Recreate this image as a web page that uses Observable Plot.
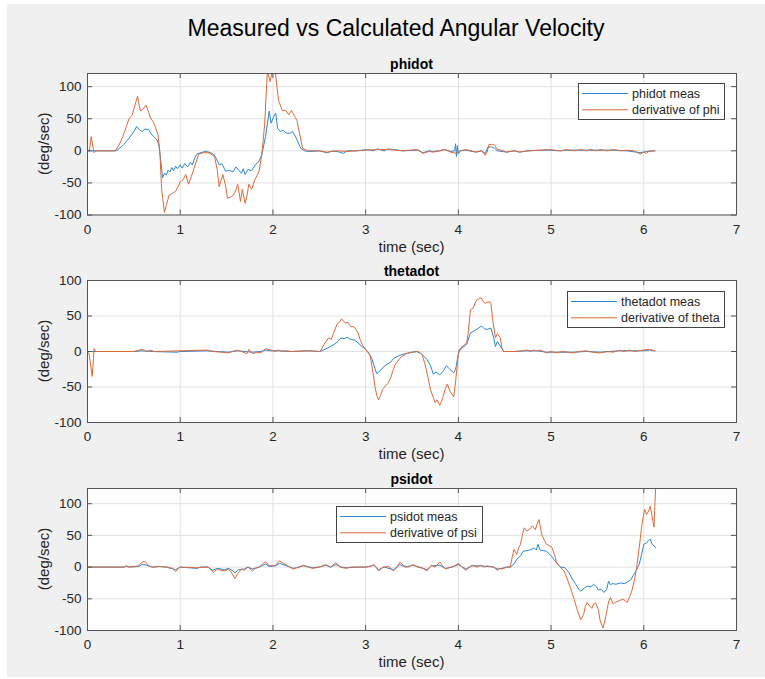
<!DOCTYPE html>
<html><head><meta charset="utf-8">
<script src="https://cdn.jsdelivr.net/npm/d3@7"></script>
<script src="https://cdn.jsdelivr.net/npm/@observablehq/plot@0.6"></script>
<style>
body{margin:0;background:#fff;}
#fig{position:relative;width:765px;height:679px;overflow:hidden;font-family:"Liberation Sans",Arial,Helvetica,sans-serif;}
#bg{position:absolute;left:7px;top:4px;width:758px;height:673px;background:#f0f0f0;}
.sub{position:absolute;left:0;}
#overlay{position:absolute;left:0;top:0;pointer-events:none;}
</style></head><body><div id="fig"><div id="bg"></div></div>
<script>
// ---------- chart content ----------
const mainTitle = "Measured vs Calculated Angular Velocity";
const subplotTitles = ["phidot", "thetadot", "psidot"];
const xLabel = "time (sec)";
const yLabel = "(deg/sec)";
const legendLabels = [["phidot meas", "derivative of phi"], ["thetadot meas", "derivative of theta"], ["psidot meas", "derivative of psi"]];
const xTicks = [0, 1, 2, 3, 4, 5, 6, 7];
const yTicks = [-100, -50, 0, 50, 100];
const xDomain = [0, 7];
const yDomains = [[-100, 120.5], [-100, 100], [-100, 124]];

// [time, value] pairs
const phiMeas = [[0,0],[0.3,0],[0.32,1],[0.38,8],[0.45,20],[0.5,30],[0.53,38],[0.56,33],[0.59,30],[0.62,34],[0.66,33],[0.69,26],[0.715,22],[0.75,17],[0.77,9],[0.79,-15],[0.81,-42],[0.83,-35],[0.85,-38],[0.87,-30],[0.89,-33],[0.91,-26],[0.93,-31],[0.95,-24],[0.97,-28],[1.0,-22],[1.02,-27],[1.05,-20],[1.08,-25],[1.11,-18],[1.13,-22],[1.16,-10],[1.18,-5],[1.22,-3],[1.27,-1],[1.31,-2],[1.36,-5],[1.39,-12],[1.42,-22],[1.45,-20],[1.49,-32],[1.53,-30],[1.57,-33],[1.6,-25],[1.63,-30],[1.66,-35],[1.68,-28],[1.7,-37],[1.73,-29],[1.77,-31],[1.81,-22],[1.85,-16],[1.88,-6],[1.92,22],[1.96,62],[1.98,43],[2.01,54],[2.03,59],[2.05,35],[2.08,30],[2.11,32],[2.14,28],[2.18,27],[2.21,30],[2.24,23],[2.26,17],[2.3,4],[2.34,0],[2.4,-1],[2.5,0],[2.58,-3],[2.65,0],[2.72,-2],[2.76,-4],[2.8,0],[2.9,0],[3.02,2],[3.08,0],[3.13,3],[3.2,0],[3.24,3],[3.31,2],[3.4,0],[3.56,1],[3.62,-3],[3.68,0],[3.73,-1],[3.8,0],[3.85,2],[3.92,-1],[3.96,0],[3.97,11],[3.98,-9],[3.99,8],[4.0,-5],[4.02,0],[4.08,1],[4.19,-2],[4.25,0],[4.29,-4],[4.32,6],[4.36,6],[4.39,4],[4.42,0],[4.52,-2],[4.6,0],[4.66,-2],[4.75,0],[4.88,1],[4.99,1],[5.1,0],[5.17,1],[5.32,1],[5.43,1],[5.53,1],[5.68,1],[5.82,0],[5.96,-3],[6.03,-1],[6.12,0]];
const phiDeriv = [[0,0],[0.02,0],[0.04,22],[0.06,5],[0.07,-3],[0.09,0],[0.3,0],[0.34,9],[0.38,22],[0.42,38],[0.45,51],[0.48,55],[0.51,70],[0.54,85],[0.57,62],[0.6,65],[0.63,71],[0.66,60],[0.68,51],[0.71,45],[0.73,38],[0.76,25],[0.78,-1],[0.8,-60],[0.83,-96],[0.85,-85],[0.88,-69],[0.92,-66],[0.95,-63],[0.98,-55],[1.0,-48],[1.03,-45],[1.06,-37],[1.09,-52],[1.12,-40],[1.15,-27],[1.2,-5],[1.25,-3],[1.31,-3],[1.37,-9],[1.4,-30],[1.42,-56],[1.46,-37],[1.49,-55],[1.51,-74],[1.56,-71],[1.59,-65],[1.62,-52],[1.65,-79],[1.67,-60],[1.7,-82],[1.72,-70],[1.74,-52],[1.77,-60],[1.8,-47],[1.85,-32],[1.88,-6],[1.91,40],[1.94,124],[1.97,108],[2.0,128],[2.02,130],[2.06,79],[2.1,63],[2.14,63],[2.17,56],[2.2,63],[2.24,52],[2.26,47],[2.28,32],[2.32,4],[2.38,0],[2.5,0],[2.58,-2],[2.7,0],[2.8,-1],[3.0,1],[3.13,2],[3.24,2],[3.4,0],[3.56,2],[3.62,-4],[3.68,-1],[3.73,-2],[3.8,0],[3.85,2],[3.92,-2],[3.98,-4],[4.02,0],[4.08,2],[4.19,-2],[4.25,0],[4.29,-7],[4.31,-2],[4.33,10],[4.37,10],[4.39,9],[4.42,2],[4.44,2],[4.52,-2],[4.6,0],[4.66,-2],[4.75,0],[4.88,1],[4.99,2],[5.1,0],[5.17,2],[5.25,0],[5.32,2],[5.38,0],[5.43,2],[5.48,0],[5.53,2],[5.6,0],[5.68,2],[5.75,0],[5.82,1],[5.9,0],[5.96,-5],[6.0,-2],[6.03,-4],[6.06,0],[6.12,0]];
const thetaMeas = [[0,0],[0.5,0],[0.59,1],[0.7,0],[0.97,-1],[1.0,0],[1.29,1],[1.4,0],[1.52,-1],[1.62,1],[1.7,0],[1.78,-1],[1.87,0],[1.92,2],[1.98,1],[2.06,1],[2.2,0],[2.39,1],[2.51,0],[2.56,3],[2.62,7],[2.66,10],[2.7,14],[2.73,19],[2.77,18],[2.8,20],[2.84,17],[2.88,16],[2.92,12],[2.96,7],[3.0,3],[3.04,-3],[3.07,-11],[3.1,-24],[3.12,-31],[3.15,-28],[3.19,-22],[3.23,-18],[3.27,-15],[3.3,-10],[3.34,-7],[3.4,-4],[3.46,-2],[3.5,-1],[3.55,0],[3.6,-3],[3.66,-11],[3.7,-20],[3.73,-32],[3.76,-29],[3.8,-33],[3.84,-27],[3.87,-20],[3.9,-24],[3.95,-30],[3.97,-25],[3.99,-11],[4.01,3],[4.05,6],[4.09,10],[4.13,26],[4.17,29],[4.21,32],[4.25,36],[4.28,32],[4.31,31],[4.35,33],[4.38,20],[4.4,7],[4.42,14],[4.45,8],[4.49,0],[4.6,0],[4.74,1],[4.85,1],[4.95,-1],[5.06,-1],[5.24,-1],[5.38,0],[5.53,-1],[5.74,1],[5.85,1],[5.99,1],[6.06,2],[6.12,1]];
const thetaDeriv = [[0,0],[0.02,-5],[0.05,-35],[0.065,-10],[0.07,4],[0.09,0],[0.5,0],[0.59,3],[0.64,0],[0.68,2],[0.72,0],[1.29,2],[1.35,0],[1.45,-1],[1.52,-2],[1.56,0],[1.62,2],[1.68,-1],[1.72,-3],[1.74,3],[1.78,-3],[1.83,-1],[1.87,-2],[1.92,4],[1.95,3],[1.98,2],[2.02,0],[2.06,2],[2.1,0],[2.13,1],[2.2,0],[2.39,1],[2.51,0],[2.56,12],[2.6,19],[2.63,17],[2.66,28],[2.69,38],[2.72,42],[2.74,46],[2.78,40],[2.81,41],[2.84,35],[2.87,35],[2.89,32],[2.92,26],[2.94,17],[2.97,8],[3.0,3],[3.05,-6],[3.08,-30],[3.1,-49],[3.12,-62],[3.14,-68],[3.16,-62],[3.18,-54],[3.21,-49],[3.24,-45],[3.27,-37],[3.3,-25],[3.32,-18],[3.38,-8],[3.44,-3],[3.5,-1],[3.57,0],[3.61,-5],[3.64,-18],[3.67,-35],[3.7,-54],[3.73,-65],[3.75,-72],[3.77,-68],[3.8,-76],[3.82,-70],[3.84,-62],[3.86,-52],[3.88,-46],[3.91,-56],[3.95,-64],[3.97,-43],[4.0,-3],[4.04,7],[4.09,12],[4.11,30],[4.13,59],[4.16,61],[4.18,68],[4.2,73],[4.23,75],[4.25,75],[4.27,70],[4.29,68],[4.32,70],[4.35,69],[4.37,45],[4.4,19],[4.42,25],[4.45,20],[4.47,5],[4.49,0],[4.6,0],[4.7,1],[4.74,2],[4.78,0],[4.81,2],[4.85,1],[4.88,2],[4.92,0],[4.95,-2],[5.0,0],[5.06,-2],[5.12,0],[5.18,-1],[5.24,-2],[5.3,0],[5.38,1],[5.45,-1],[5.53,-2],[5.6,0],[5.67,-1],[5.74,2],[5.78,0],[5.85,2],[5.9,0],[5.99,2],[6.06,3],[6.12,1]];
const psiMeas = [[0,0],[0.39,0],[0.42,1],[0.45,0],[0.55,1],[0.59,4],[0.64,3],[0.7,0],[0.78,1],[0.85,0],[0.95,-4],[1.0,0],[1.18,-2],[1.22,0],[1.3,0],[1.35,-5],[1.4,-2],[1.48,-4],[1.52,-2],[1.56,-5],[1.59,-9],[1.63,-4],[1.69,-3],[1.73,0],[1.78,-3],[1.85,0],[1.92,5],[1.96,1],[2.03,2],[2.07,6],[2.13,3],[2.22,-2],[2.28,0],[2.33,2],[2.43,-1],[2.5,0],[2.57,3],[2.62,0],[2.68,4],[2.74,0],[2.79,-1],[2.9,0],[3.0,0],[3.09,3],[3.14,-4],[3.2,0],[3.3,-4],[3.37,4],[3.43,0],[3.51,3],[3.58,0],[3.66,-4],[3.71,2],[3.8,3],[3.86,-2],[3.93,0],[4.0,4],[4.08,-3],[4.15,2],[4.24,2],[4.31,1],[4.38,0],[4.42,-3],[4.47,-2],[4.52,0],[4.56,0],[4.6,5],[4.63,12],[4.67,18],[4.7,25],[4.74,26],[4.77,27],[4.8,29],[4.82,30],[4.84,27],[4.86,36],[4.88,27],[4.92,26],[4.95,25],[5.0,18],[5.03,12],[5.07,5],[5.1,0],[5.15,-1],[5.19,-8],[5.23,-19],[5.27,-28],[5.3,-35],[5.32,-38],[5.36,-33],[5.39,-30],[5.43,-31],[5.46,-27],[5.49,-31],[5.51,-36],[5.54,-35],[5.57,-40],[5.6,-35],[5.62,-22],[5.64,-28],[5.66,-26],[5.7,-27],[5.75,-25],[5.79,-26],[5.82,-24],[5.86,-20],[5.89,-12],[5.92,-5],[5.95,4],[5.98,22],[6.0,36],[6.03,38],[6.05,42],[6.07,44],[6.09,36],[6.13,31]];
const psiDeriv = [[0,0],[0.39,0],[0.42,2],[0.45,0],[0.55,2],[0.59,8],[0.62,9],[0.66,2],[0.7,0],[0.78,1],[0.85,0],[0.92,-2],[0.95,-7],[0.98,-2],[1.0,0],[1.18,-1],[1.3,0],[1.33,-4],[1.36,-8],[1.4,-3],[1.44,-5],[1.48,-6],[1.52,-3],[1.55,-8],[1.59,-18],[1.62,-10],[1.66,-3],[1.69,-5],[1.73,0],[1.78,-6],[1.81,-2],[1.85,0],[1.89,5],[1.92,9],[1.95,3],[1.99,2],[2.03,3],[2.07,10],[2.1,7],[2.13,5],[2.18,0],[2.22,-3],[2.28,0],[2.33,3],[2.38,0],[2.43,-2],[2.5,0],[2.57,4],[2.62,0],[2.68,7],[2.72,0],[2.79,-2],[2.84,0],[3.0,0],[3.05,1],[3.09,4],[3.14,-6],[3.19,0],[3.25,1],[3.3,-6],[3.34,0],[3.37,8],[3.41,2],[3.46,0],[3.51,4],[3.56,0],[3.62,-2],[3.66,-6],[3.71,3],[3.75,0],[3.8,8],[3.83,2],[3.86,-3],[3.92,0],[3.96,2],[4.0,6],[4.04,0],[4.08,-5],[4.12,0],[4.15,3],[4.2,0],[4.24,3],[4.28,0],[4.31,2],[4.38,0],[4.42,-5],[4.45,-2],[4.47,-3],[4.52,0],[4.56,0],[4.58,15],[4.6,28],[4.63,20],[4.65,30],[4.67,36],[4.69,50],[4.71,62],[4.74,57],[4.77,60],[4.8,65],[4.83,59],[4.85,68],[4.87,75],[4.9,51],[4.93,42],[4.95,36],[4.98,34],[5.01,31],[5.04,18],[5.06,6],[5.1,0],[5.14,-6],[5.17,-17],[5.21,-33],[5.25,-51],[5.28,-67],[5.32,-83],[5.35,-75],[5.37,-62],[5.39,-56],[5.42,-62],[5.44,-65],[5.46,-58],[5.48,-56],[5.51,-67],[5.53,-85],[5.56,-96],[5.58,-85],[5.6,-70],[5.62,-55],[5.64,-48],[5.67,-58],[5.7,-55],[5.72,-54],[5.75,-52],[5.78,-51],[5.8,-53],[5.82,-56],[5.85,-46],[5.87,-38],[5.9,-20],[5.92,-3],[5.95,30],[5.98,67],[6.0,85],[6.01,91],[6.03,83],[6.05,88],[6.07,96],[6.09,80],[6.11,63],[6.12,100],[6.13,130]];

const measSeries = [phiMeas, thetaMeas, psiMeas];
const derivSeries = [phiDeriv, thetaDeriv, psiDeriv];

// ---------- layout / style ----------
const BLUE = "#2a87cf", ORANGE = "#e0693a", AX = "#262626", BOX = "#555555", GRID = "#e1e1e1";
const FONT = '"Liberation Sans", Arial, Helvetica, sans-serif';
const W = 765, mL = 87, mR = 29, mT = 10, mB = 30;
const frames = [{top: 73, h: 141.5}, {top: 280, h: 142}, {top: 488, h: 142}];
const legends = [
  {x: 578, y: 83, w: 146, h: 36, lx: 582, tx: 632},
  {x: 567, y: 291, w: 157, h: 36, lx: 571, tx: 621},
  {x: 336, y: 506, w: 146, h: 36, lx: 340, tx: 390}
];
const fig = document.getElementById("fig");
const innerW = W - mL - mR;
const TL = 5;

frames.forEach((f, i) => {
  const chart = Plot.plot({
    width: W, height: f.h + mT + mB,
    marginLeft: mL, marginRight: mR, marginTop: mT, marginBottom: mB,
    style: {background: "transparent", fontFamily: FONT, fontSize: "13.5px", color: AX, overflow: "visible"},
    x: {domain: xDomain},
    y: {domain: yDomains[i]},
    marks: [
      Plot.frame({fill: "white", stroke: null}),
      Plot.gridX(xTicks, {stroke: GRID, strokeOpacity: 1}),
      Plot.gridY(yTicks, {stroke: GRID, strokeOpacity: 1}),
      Plot.line(measSeries[i], {x: d => d[0], y: d => d[1], stroke: BLUE, strokeWidth: 1, clip: true}),
      Plot.line(derivSeries[i], {x: d => d[0], y: d => d[1], stroke: ORANGE, strokeWidth: 1, clip: true}),
      Plot.tickX(xTicks, {x: d => d, insetTop: f.h - TL, stroke: BOX}),
      Plot.tickX(xTicks, {x: d => d, insetBottom: f.h - TL, stroke: BOX}),
      Plot.tickY(yTicks, {y: d => d, insetRight: innerW - TL, stroke: BOX}),
      Plot.tickY(yTicks, {y: d => d, insetLeft: innerW - TL, stroke: BOX}),
      Plot.frame({stroke: BOX, strokeWidth: 1}),
      Plot.axisX(xTicks, {tickSize: 0, tickPadding: 9, label: null, tickFormat: d => String(d), fill: AX}),
      Plot.axisY(yTicks, {tickSize: 0, tickPadding: 6, label: null, tickFormat: d => String(d), fill: AX})
    ]
  });
  chart.classList.add("sub");
  chart.style.top = (f.top - mT) + "px";
  fig.appendChild(chart);
});

// ---------- titles, labels, legends ----------
const svg = d3.select("#fig").append("svg").attr("id", "overlay")
  .attr("width", W).attr("height", 679).style("font-family", FONT);
svg.append("text").attr("x", 396).attr("y", 36).attr("text-anchor", "middle")
  .attr("font-size", 23).attr("fill", "#000").text(mainTitle);
const cx = mL + innerW / 2;
frames.forEach((f, i) => {
  const bottom = f.top + f.h;
  svg.append("text").attr("x", cx).attr("y", f.top - 4.5).attr("text-anchor", "middle")
    .attr("font-size", 14).attr("font-weight", "bold").attr("fill", "#000").text(subplotTitles[i]);
  svg.append("text").attr("x", cx).attr("y", bottom + 37).attr("text-anchor", "middle")
    .attr("font-size", 15).attr("fill", AX).text(xLabel);
  svg.append("text").attr("transform", `translate(49,${f.top + f.h / 2}) rotate(-90)`)
    .attr("text-anchor", "middle").attr("font-size", 15).attr("fill", AX).text(yLabel);
  const L = legends[i];
  const g = svg.append("g");
  g.append("rect").attr("x", L.x + 0.5).attr("y", L.y + 0.5).attr("width", L.w).attr("height", L.h)
    .attr("fill", "white").attr("stroke", "#444").attr("stroke-width", 1);
  [BLUE, ORANGE].forEach((c, k) => {
    const yy = L.y + 10.5 + k * 16.3;
    g.append("line").attr("x1", L.lx).attr("x2", L.lx + 46).attr("y1", yy).attr("y2", yy)
      .attr("stroke", c).attr("stroke-width", 1);
    g.append("text").attr("x", L.tx).attr("y", yy + 4.5).attr("font-size", 12.5).attr("fill", AX)
      .text(legendLabels[i][k]);
  });
});
</script></body></html>
